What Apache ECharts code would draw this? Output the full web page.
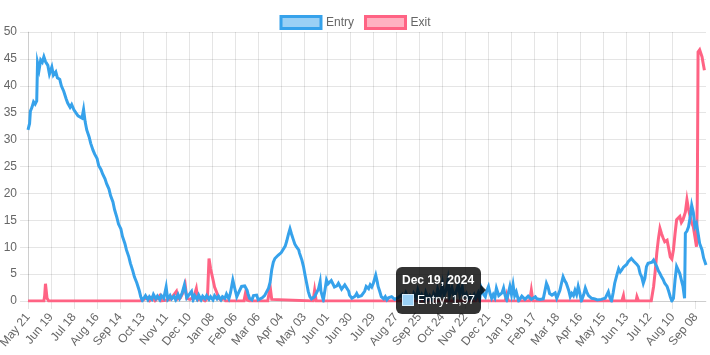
<!DOCTYPE html>
<html>
<head>
<meta charset="utf-8">
<script src="https://cdn.jsdelivr.net/npm/echarts@6/dist/echarts.min.js"></script>
<style>
html,body{margin:0;padding:0;background:#fff;}
#chart{width:710px;height:355px;}
</style>
</head>
<body>
<div id="chart"></div>
<script>
// ---- data (x = days since startDate, y = value) ----
const startDate = [2023, 4, 21]; // May 21, 2023 (month 0-based)
const seriesNames = ['Entry', 'Exit'];
const entryPoints = [[0,31.8],[2,33.0],[3,35.3],[5,36.0],[7,37.0],[9,36.6],[11,37.2],[12,44.3],[14,43.0],[16,44.8],[18,44.4],[20,45.4],[22,44.5],[25,43.8],[27,42.2],[30,43.5],[32,42.0],[35,42.6],[37,41.5],[40,41.2],[42,40.0],[45,39.0],[48,37.6],[50,36.8],[53,36.0],[55,36.5],[58,35.5],[60,35.2],[63,34.4],[65,34.6],[68,34.0],[70,35.6],[72,33.3],[74,31.8],[77,30.5],[79,29.3],[82,28.0],[84,27.3],[87,26.5],[89,25.2],[92,24.4],[94,23.6],[97,22.7],[99,21.8],[102,20.8],[104,19.6],[107,18.4],[109,17.0],[112,15.5],[114,14.3],[117,13.4],[119,12.0],[122,10.7],[124,9.5],[127,8.2],[129,7.0],[132,5.6],[134,4.5],[137,3.4],[140,2.0],[142,0.8],[144,0.1],[145,0.3],[148,1.0],[151,0.2],[153,0.8],[156,0.3],[158,1.2],[161,0.4],[163,0.9],[166,0.2],[168,1.0],[171,0.5],[174,2.6],[176,0.3],[179,1.0],[181,0.4],[184,0.9],[186,0.2],[189,1.2],[191,0.5],[194,1.4],[197,3.0],[200,0.6],[202,1.0],[206,1.8],[208,0.2],[210,1.0],[213,0.3],[215,1.1],[218,0.2],[220,0.9],[223,0.4],[225,1.0],[228,0.3],[230,0.8],[233,0.2],[235,1.0],[238,0.4],[240,0.9],[243,0.2],[245,0.8],[248,0.5],[250,1.3],[253,0.4],[255,1.5],[258,3.9],[261,2.0],[263,0.8],[266,1.8],[269,2.7],[271,3.0],[273,2.8],[276,2.0],[277,1.4],[279,0.5],[282,0.2],[284,1.0],[286,0.8],[288,1.1],[290,0.2],[292,0.0],[295,0.6],[296,0.5],[298,1.0],[300,1.1],[303,2.4],[305,3.5],[307,5.8],[309,7.2],[311,7.9],[313,8.0],[315,8.5],[317,8.6],[319,9.0],[321,9.3],[324,10.2],[326,11.2],[328,12.4],[330,13.4],[332,12.4],[334,11.5],[336,10.6],[338,10.1],[341,9.5],[342,8.9],[345,7.6],[347,6.4],[349,4.8],[351,3.3],[353,1.8],[355,0.8],[357,0.4],[359,0.2],[361,0.8],[363,1.1],[366,2.3],[368,3.6],[369,1.8],[372,0.2],[374,2.0],[376,3.9],[378,3.2],[380,3.0],[382,3.8],[384,3.6],[386,2.6],[389,2.8],[391,3.3],[393,3.0],[395,2.2],[397,2.0],[399,3.0],[401,2.7],[404,1.8],[405,1.1],[408,0.5],[410,0.2],[412,0.9],[414,1.4],[416,0.8],[418,0.5],[420,1.0],[422,0.8],[424,1.8],[426,2.7],[429,2.3],[431,3.0],[433,2.6],[435,3.3],[438,4.8],[440,3.5],[441,2.7],[443,1.8],[445,0.8],[448,0.4],[450,0.8],[452,0.2],[454,0.6],[456,0.3],[458,0.8],[460,0.5],[462,0.3],[464,0.2],[467,0.7],[468,0.4],[471,1.2],[473,0.3],[476,1.5],[479,0.5],[481,1.0],[484,0.2],[486,1.4],[489,0.6],[491,2.0],[494,0.5],[496,1.2],[499,0.3],[501,1.6],[504,0.4],[506,1.0],[509,0.2],[511,1.4],[514,0.6],[516,2.2],[519,0.8],[522,3.2],[524,1.0],[527,2.2],[529,3.9],[531,1.0],[534,2.4],[537,0.6],[539,1.6],[542,3.0],[544,1.2],[547,2.6],[549,0.8],[552,1.4],[554,0.3],[557,1.0],[559,0.3],[562,1.2],[564,0.5],[567,1.5],[569,0.4],[571,2.4],[574,1.2],[576,0.8],[578,1.97],[580,2.7],[582,1.4],[584,0.5],[586,1.2],[588,0.6],[590,2.4],[593,1.0],[595,0.8],[597,1.5],[599,2.4],[601,1.0],[603,0.2],[605,1.4],[607,2.7],[609,1.2],[611,3.0],[613,1.0],[615,1.7],[618,0.0],[620,0.2],[622,0.9],[624,0.8],[626,0.3],[628,0.5],[630,0.9],[632,0.8],[634,0.3],[636,0.5],[639,0.8],[641,0.4],[643,0.6],[645,0.3],[647,0.5],[649,0.4],[651,1.8],[653,3.3],[655,2.6],[657,1.4],[660,1.1],[662,0.8],[664,1.5],[666,0.5],[668,0.8],[670,2.0],[672,3.3],[674,4.5],[676,3.8],[678,3.3],[681,2.0],[683,0.8],[685,1.4],[687,1.0],[689,2.0],[691,1.2],[693,2.7],[695,1.5],[697,0.0],[700,1.2],[702,2.4],[704,1.6],[706,1.0],[708,0.8],[710,0.5],[712,0.2],[714,0.4],[717,0.2],[719,0.5],[722,0.3],[724,0.2],[727,0.5],[729,0.3],[731,1.7],[733,0.6],[735,0.0],[737,1.5],[739,3.3],[742,5.0],[744,6.0],[746,5.4],[748,5.8],[750,6.3],[752,6.4],[754,6.8],[756,7.3],[758,7.6],[760,7.9],[763,7.4],[765,7.3],[767,6.8],[769,6.4],[771,5.1],[773,4.5],[775,3.3],[777,4.2],[779,6.4],[781,7.0],[783,7.3],[786,7.2],[788,7.6],[790,7.0],[792,6.4],[794,5.6],[796,5.1],[798,4.5],[800,4.0],[802,3.3],[805,2.7],[807,1.8],[809,0.8],[811,0.0],[813,0.5],[815,3.9],[817,6.4],[819,6.4],[821,5.1],[823,3.9],[825,2.7],[827,0.5],[828,12.6],[830,13.0],[832,13.8],[834,15.5],[836,17.8],[838,16.5],[840,13.8],[842,14.4],[844,12.6],[846,10.7],[849,9.5],[851,8.0],[854,6.7]];
const exitPoints = [[0,0],[20,0],[21,1.0],[22,3.2],[24,0.5],[26,0],[141,0],[145,0.2],[150,0.6],[153,0],[157,0.8],[160,0],[166,1.0],[168,0],[179,0.3],[182,0.8],[187,1.8],[189,0.4],[192,0.6],[195,1.5],[198,3.0],[200,0.5],[204,0.3],[209,0.8],[212,2.3],[214,0.2],[219,0.5],[223,0],[226,0.5],[228,7.9],[230,6.0],[233,4.0],[235,2.6],[238,1.5],[240,0.5],[243,0.2],[247,0.5],[249,0],[272,0],[274,1.5],[276,0.2],[279,0],[302,0],[305,2.7],[307,0.3],[309,0],[359,0],[361,2.0],[363,0],[564,0],[567,1.0],[569,0],[601,0],[603,1.2],[605,0],[632,0],[634,2.0],[636,0],[748,0],[750,1.0],[751,0],[766,0],[767,0.8],[769,0],[785,0],[788,2.7],[790,5.5],[792,8.9],[794,11.5],[796,13.5],[798,12.5],[800,11.7],[802,11.0],[805,11.3],[807,9.8],[809,8.2],[811,7.8],[813,9.5],[815,12.5],[817,15.1],[819,15.4],[821,15.7],[823,14.6],[825,15.1],[828,16.5],[830,18.8],[832,17.0],[834,15.7],[836,14.5],[838,13.8],[840,12.0],[842,10.1],[843,18.2],[844,46.3],[846,46.7],[849,45.4],[850,44.5],[852,42.9],[854,42.6]];
const tooltipDay = 578;     // Dec 19, 2024
const xTickStep = 29;       // days between x tick labels
const xMaxDay = 854;        // last day shown
const yMin = 0, yMax = 50, yStep = 5;

// ---- helpers ----
const FONT = "'Liberation Sans', Arial, Helvetica, sans-serif";
const GRID = 'rgba(0,0,0,0.1)';
const MONTHS = ['Jan','Feb','Mar','Apr','May','Jun','Jul','Aug','Sep','Oct','Nov','Dec'];
const startMs = Date.UTC(startDate[0], startDate[1], startDate[2]);
function dayToDate(d) { return new Date(startMs + Math.round(d) * 86400000); }
function fmtTick(d) {
  const t = dayToDate(d);
  return MONTHS[t.getUTCMonth()] + ' ' + String(t.getUTCDate()).padStart(2, '0');
}
function fmtTitle(d) {
  const t = dayToDate(d);
  return MONTHS[t.getUTCMonth()] + ' ' + t.getUTCDate() + ', ' + t.getUTCFullYear();
}
function fmtNum(v) { return String(v).replace('.', ','); }
const xTicks = [];
for (let v = 0; v <= xMaxDay; v += xTickStep) xTicks.push(v);

const chart = echarts.init(document.getElementById('chart'), null, { renderer: 'canvas' });

const option = {
  animation: false,
  textStyle: { fontFamily: FONT },
  legend: {
    top: 10,
    left: 'center',
    itemWidth: 40,
    itemHeight: 12,
    itemGap: 10,
    selectedMode: false,
    textStyle: { color: '#666', fontSize: 12, fontFamily: FONT },
    data: [
      { name: seriesNames[0], icon: 'rect', itemStyle: { color: 'rgba(54,162,235,0.5)', borderColor: 'rgb(54,162,235)', borderWidth: 3 } },
      { name: seriesNames[1], icon: 'rect', itemStyle: { color: 'rgba(255,99,132,0.5)', borderColor: 'rgb(255,99,132)', borderWidth: 3 } }
    ]
  },
  grid: { left: 28, right: 4, top: 32, bottom: 54, containLabel: false, outerBoundsMode: 'none' },
  tooltip: {
    trigger: 'axis',
    triggerOn: 'none',
    alwaysShowContent: true,
    axisPointer: { type: 'none', axis: 'x' },
    backgroundColor: 'rgba(0,0,0,0.8)',
    borderWidth: 0,
    borderRadius: 6,
    padding: 6,
    transitionDuration: 0,
    textStyle: { color: '#fff', fontSize: 12, fontFamily: FONT },
    extraCssText: 'box-shadow:none;',
    position: function (point, params, dom, rect, size) {
      return [point[0] - size.contentSize[0] - 6, point[1] - size.contentSize[1] / 2];
    },
    formatter: function (params) {
      const list = Array.isArray(params) ? params : [params];
      const p = list.find(q => q.seriesName === seriesNames[0]) || list[0];
      const day = p.value[0], val = p.value[1];
      const box = '<span style="display:inline-block;width:10px;height:10px;background:#9ad0f5;border:1px solid #d6ecfb;vertical-align:-2px;margin-right:3px;"></span>';
      const caret = '<div style="position:absolute;right:-5px;top:50%;margin-top:-5px;width:0;height:0;border-top:5px solid transparent;border-bottom:5px solid transparent;border-left:5px solid rgba(0,0,0,0.8);"></div>';
      return '<div style="font-weight:bold;font-size:12px;line-height:14.4px;margin-bottom:6px;color:#fff;">' + fmtTitle(day) + '</div>' +
             '<div style="font-size:12px;line-height:14.4px;color:#fff;white-space:nowrap;">' + box + p.seriesName + ': ' + fmtNum(val) + '</div>' + caret;
    }
  },
  xAxis: {
    type: 'value',
    min: 0,
    max: xMaxDay,
    interval: xTickStep,
    axisLine: { show: true, onZero: false, lineStyle: { color: GRID, width: 1 } },
    axisTick: { show: true, length: 8, lineStyle: { color: GRID }, customValues: xTicks },
    axisLabel: {
      rotate: 50, margin: 14, color: '#666', fontSize: 12, fontFamily: FONT,
      customValues: xTicks,
      formatter: function (v) { return (Math.round(v) % xTickStep === 0) ? fmtTick(v) : ''; }
    },
    splitLine: { show: true, showMaxLine: false, lineStyle: { color: GRID, width: 1 } }
  },
  yAxis: {
    type: 'value',
    min: yMin,
    max: yMax,
    interval: yStep,
    axisLine: { show: true, lineStyle: { color: GRID, width: 1 } },
    axisTick: { show: true, length: 8, lineStyle: { color: GRID } },
    axisLabel: { margin: 11, color: '#666', fontSize: 12, fontFamily: FONT },
    splitLine: { show: true, lineStyle: { color: GRID, width: 1 } }
  },
  series: [
    {
      name: seriesNames[0], type: 'line', data: entryPoints, z: 4,
      symbol: 'none', showSymbol: false,
      lineStyle: { color: 'rgb(54,162,235)', width: 3, join: 'miter', miterLimit: 10 },
      itemStyle: { color: 'rgb(54,162,235)' },
      emphasis: { disabled: true }
    },
    {
      name: seriesNames[1], type: 'line', data: exitPoints, z: 3,
      symbol: 'none', showSymbol: false,
      lineStyle: { color: 'rgb(255,99,132)', width: 3, join: 'miter', miterLimit: 10 },
      itemStyle: { color: 'rgb(255,99,132)' },
      emphasis: { disabled: true }
    }
  ]
};

chart.setOption(option);
const tipIndex = entryPoints.findIndex(p => p[0] === tooltipDay);
chart.dispatchAction({ type: 'showTip', seriesIndex: 0, dataIndex: tipIndex });
</script>
</body>
</html>
